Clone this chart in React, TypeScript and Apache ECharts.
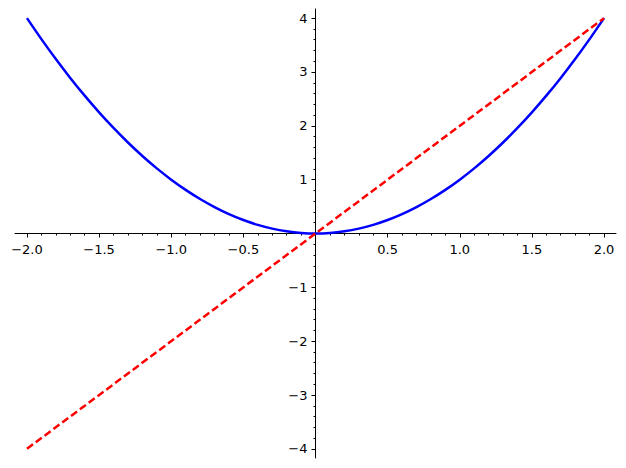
import React, { useEffect, useRef } from "react";
import * as echarts from "echarts";

// sample points
const xs = [
  -2.0, -1.9, -1.8, -1.7, -1.6, -1.5, -1.4, -1.3, -1.2, -1.1, -1.0, -0.9, -0.8,
  -0.7, -0.6, -0.5, -0.4, -0.3, -0.2, -0.1, 0.0, 0.1, 0.2, 0.3, 0.4, 0.5, 0.6,
  0.7, 0.8, 0.9, 1.0, 1.1, 1.2, 1.3, 1.4, 1.5, 1.6, 1.7, 1.8, 1.9, 2.0,
];
const blueYs = [
  4.0, 3.61, 3.24, 2.89, 2.56, 2.25, 1.96, 1.69, 1.44, 1.21, 1.0, 0.81, 0.64,
  0.49, 0.36, 0.25, 0.16, 0.09, 0.04, 0.01, 0.0, 0.01, 0.04, 0.09, 0.16, 0.25,
  0.36, 0.49, 0.64, 0.81, 1.0, 1.21, 1.44, 1.69, 1.96, 2.25, 2.56, 2.89, 3.24,
  3.61, 4.0,
];
const redXs = [-2.0, 2.0];
const redYs = [-4.0, 4.0];

const xTickValues = [-2, -1.5, -1, -0.5, 0, 0.5, 1, 1.5, 2];
const xLabelValues = [-2, -1.5, -1, -0.5, 0.5, 1, 1.5, 2];
const xLabels = ["\u22122.0", "\u22121.5", "\u22121.0", "\u22120.5", "0.5", "1.0", "1.5", "2.0"];
const yTickValues = [-4, -3, -2, -1, 0, 1, 2, 3, 4];
const yLabelValues = [-4, -3, -2, -1, 1, 2, 3, 4];
const yLabels = ["\u22124", "\u22123", "\u22122", "\u22121", "1", "2", "3", "4"];

const labelFont = { fontFamily: "DejaVu Sans", fontSize: 13, color: "#000" };

const App = () => {
  const chartRef = useRef<HTMLDivElement>(null);

  useEffect(() => {
    if (!chartRef.current) return;
    const chart = echarts.init(chartRef.current, undefined, { renderer: "svg" });

    // axes cross at the origin: the grid is symmetric, so zero sits mid-grid
    const axisCommon = {
      type: "value" as const,
      splitLine: { show: false },
      axisLine: { show: true, onZero: false, lineStyle: { color: "#000", width: 1 } },
      minorTick: { show: true, splitNumber: 5, length: 2, lineStyle: { color: "#000", width: 1 } },
    };

    chart.setOption({
      animation: false,
      backgroundColor: "#fff",
      grid: {
        left: 15,
        right: 10,
        top: 9,
        bottom: 10,
        containLabel: false,
        outerBoundsMode: "none",
      },
      xAxis: {
        ...axisCommon,
        position: "bottom",
        offset: -224.5,
        min: -2.083,
        max: 2.083,
        splitNumber: 8,
        axisTick: {
          show: true,
          length: 4,
          customValues: xTickValues,
          lineStyle: { color: "#000", width: 1 },
        },
        axisLabel: {
          ...labelFont,
          margin: 9,
          customValues: xLabelValues,
          formatter: (v: number) => xLabels[xLabelValues.indexOf(v)] ?? "",
        },
      },
      yAxis: {
        ...axisCommon,
        position: "left",
        offset: -300.5,
        min: -4.17,
        max: 4.17,
        splitNumber: 8,
        axisTick: {
          show: true,
          length: 4,
          customValues: yTickValues,
          lineStyle: { color: "#000", width: 1 },
        },
        axisLabel: {
          ...labelFont,
          margin: 8,
          customValues: yLabelValues,
          formatter: (v: number) => yLabels[yLabelValues.indexOf(v)] ?? "",
        },
      },
      series: [
        {
          type: "line",
          data: xs.map((x, i) => [x, blueYs[i]]),
          showSymbol: false,
          smooth: 0.3,
          lineStyle: { color: "#0000ff", width: 2.5 },
          z: 3,
        },
        {
          type: "line",
          data: redXs.map((x, i) => [x, redYs[i]]),
          showSymbol: false,
          lineStyle: { color: "#ff0000", width: 2.5, type: [7.5, 3.5] },
          z: 4,
        },
      ],
    });

    return () => chart.dispose();
  }, []);

  return (
    <div
      ref={chartRef}
      style={{ position: "absolute", left: 0, top: 0, width: 626, height: 468 }}
    />
  );
};

export default App;
